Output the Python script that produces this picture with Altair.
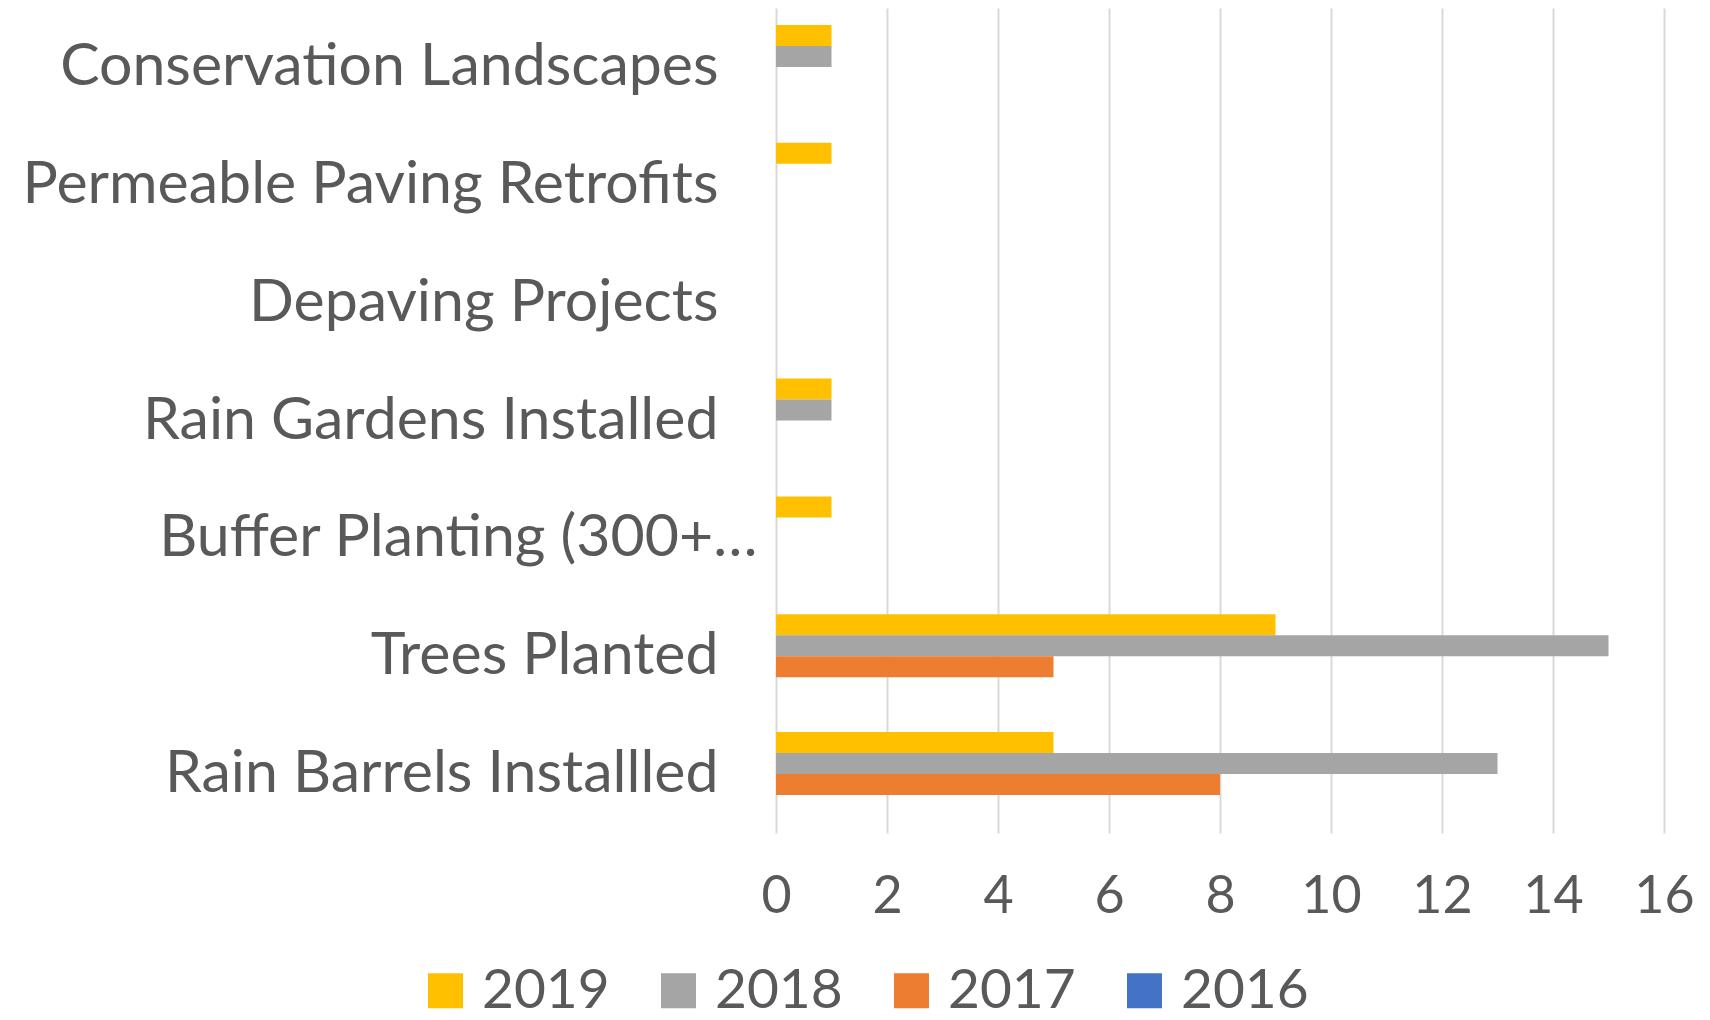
import altair as alt
import pandas as pd

categories = [
    "Conservation Landscapes",
    "Permeable Paving Retrofits",
    "Depaving Projects",
    "Rain Gardens Installed",
    "Buffer Planting (300+…",
    "Trees Planted",
    "Rain Barrels Installled",
]
years = ["2019", "2018", "2017", "2016"]
values_2019 = [1, 1, 0, 1, 1, 9, 5]
values_2018 = [1, 0, 0, 1, 0, 15, 13]
values_2017 = [0, 0, 0, 0, 0, 5, 8]
values_2016 = [0, 0, 0, 0, 0, 0, 0]
colors = ["#FFC000", "#A5A5A5", "#ED7D31", "#4472C4"]
x_ticks = [0, 2, 4, 6, 8, 10, 12, 14, 16]

series = {"2019": values_2019, "2018": values_2018, "2017": values_2017, "2016": values_2016}
rows = []
for yr in years:
    for cat, v in zip(categories, series[yr]):
        rows.append({"category": cat, "year": yr, "value": v})
df = pd.DataFrame(rows)

FONT = "Lato"
TXT = "#595959"

chart = alt.Chart(df).mark_bar().encode(
    y=alt.Y("category:N", sort=categories,
            scale=alt.Scale(paddingInner=0.288, paddingOuter=0.144),
            axis=alt.Axis(title=None, domain=False, ticks=False, labelFont=FONT,
                          labelFontSize=59, labelColor=TXT,
                          labelPadding={"condition": {"test": "substring(datum.label, 0, 6) === 'Buffer'", "value": 19}, "value": 58},
                          labelLimit=2000)),
    yOffset=alt.YOffset("year:N", sort=years, scale=alt.Scale(domain=years, paddingInner=0, paddingOuter=0)),
    x=alt.X("value:Q", scale=alt.Scale(domain=[0, 16], nice=False),
            axis=alt.Axis(title=None, values=x_ticks, domain=False, ticks=False,
                          grid=True, gridColor="#D9D9D9", gridWidth=2,
                          labelFont=FONT, labelFontSize=52, labelColor=TXT,
                          labelFlush=False, labelPadding=38)),
    color=alt.Color("year:N", sort=years,
                    scale=alt.Scale(domain=years, range=colors),
                    legend=alt.Legend(title=None, orient="none", direction="horizontal",
                                      legendX=-358, legendY=955,
                                      symbolType="square", symbolSize=1225,
                                      symbolStrokeWidth=0, symbolOpacity=1,
                                      labelFont=FONT, labelFontSize=55, labelColor=TXT,
                                      labelOffset=9, columnPadding=41, padding=0)),
).properties(
    width=888, height=825,
    autosize=alt.AutoSizeParams(type="none"),
    padding={"left": 768, "top": 0, "right": 38, "bottom": 187},
).configure_view(stroke=None)

chart.save("out.html", embed_options={"renderer": "svg", "actions": False})
